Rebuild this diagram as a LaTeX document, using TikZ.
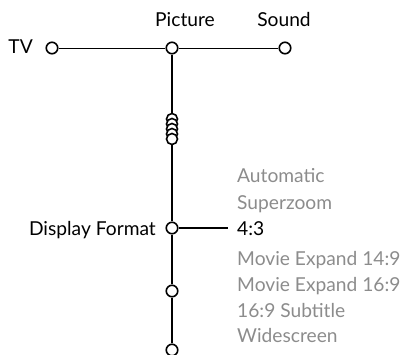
\documentclass[tikz,border=0pt]{standalone}
\usepackage{fontspec}
\setmainfont{Lato}
\definecolor{optgray}{HTML}{8C8C8C}
\begin{document}
\begin{tikzpicture}[x=1pt,y=-1pt,
  dot/.style={circle,draw=black,fill=white,line width=1.6pt,minimum size=11.5pt,inner sep=0pt},
  lbl/.style={font=\fontsize{19.2}{22}\selectfont,inner sep=0pt,text=black},
  opt/.style={lbl,text=optgray,anchor=base west},
  thin/.style={line width=1pt},
  thick/.style={line width=2pt}]
\useasboundingbox (0,0) rectangle (404,354);
% nodes
\node[dot] (tv) at (52,48) {};
\node[dot] (pic) at (172,48) {};
\node[dot] (snd) at (285,48) {};
\node[lbl,anchor=base east] (tvl) at (33,53) {TV};
\node[lbl,anchor=base] (picl) at (185,26) {Picture};
\node[lbl,anchor=base] (sndl) at (284,26) {Sound};
\foreach \i/\y in {1/119,2/124,3/129,4/134,5/139}
  \node[dot,minimum size=11pt] (s\i) at (172,\y) {};
\node[dot] (df) at (172,228) {};
\node[dot] (c2) at (172,291) {};
\node[dot] (c3) at (172,350) {};
\node[lbl,anchor=base east] (dfl) at (156,235) {Display Format};
\coordinate (dfend) at (228,228);
\node[lbl,anchor=base west] (o3) at (237,235) {4:3};
\node[opt] (o1) at (237,182) {Automatic};
\node[opt] (o2) at (237,209) {Superzoom};
\node[opt] (o4) at (237,265) {Movie Expand 14:9};
\node[opt] (o5) at (237,291) {Movie Expand 16:9};
\node[opt] (o6) at (237,317) {16:9 Subtitle};
\node[opt] (o7) at (237,342) {Widescreen};
% connectors
\draw[thin] (tv) -- (pic);
\draw[thin] (pic) -- (snd);
\draw[thick] (pic) -- (s1);
\draw[thick] (s5) -- (df);
\draw[thick] (df) -- (c2);
\draw[thick] (c2) -- (c3);
\draw[thick] (df) -- (dfend);
\end{tikzpicture}
\end{document}
